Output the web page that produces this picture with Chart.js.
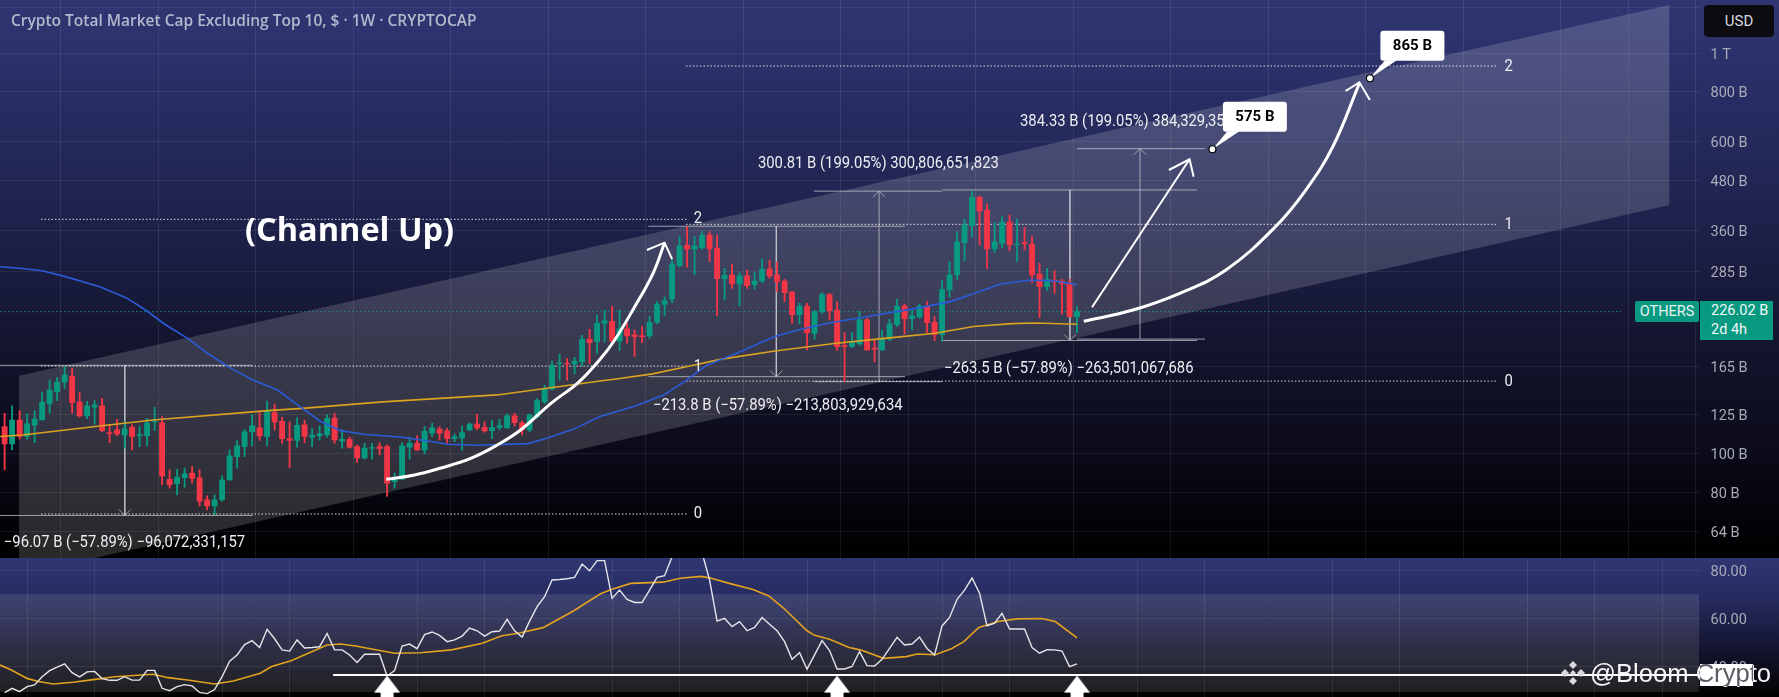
<!DOCTYPE html>
<html>
<head>
<meta charset="utf-8">
<title>OTHERS</title>
<script src="https://cdn.jsdelivr.net/npm/chart.js@4/dist/chart.umd.min.js"></script>
<style>
  html, body { margin: 0; padding: 0; background: #000; overflow: hidden; }
  #stage { position: relative; width: 1779px; height: 697px; font-family: "Liberation Sans Narrow", Roboto, sans-serif; }
  canvas { position: absolute; left: 0; display: block; }
  #mainChart {
    top: 0;
    background: linear-gradient(#2f3672 0, #2a3068 70px, #1f2450 200px, #14152f 340px, #0b0b1a 450px, #020206 530px, #000 558px);
  }
  #rsiChart {
    top: 558px;
    background: linear-gradient(#2f3672 0, #262b60 40px, #14152f 90px, #0a0a14 120px, #000 139px);
  }
  .tag { position: absolute; white-space: nowrap; }
  #title { left: 10.5px; top: 10px; color: #b4b8cc; font: 600 15.4px "Open Sans", sans-serif; transform-origin: left center; }
  #usd { left: 1704px; top: 5px; width: 70px; height: 32px; line-height: 32px; background: #0b0b10; border-radius: 4px; color: #d8d8de; font-size: 15px; text-align: center; }
  #others { left: 1635px; top: 301px; width: 64px; height: 21px; line-height: 21px; background: #089981; border-radius: 2px; color: #e8f5f2; font-size: 14.5px; text-align: center; }
  #lastPrice { left: 1700px; top: 301px; width: 73px; height: 39px; background: #089981; color: #f0f8f6; font-size: 14.5px; line-height: 19px; padding-left: 11px; box-sizing: border-box; }
  #patch { left: 1700px; top: 664px; width: 53px; height: 22px; background: #fff; overflow: hidden; }
  #mark { left: 1590px; top: 659px; color: #f4f4f6; font: 25.6px "Liberation Sans", sans-serif; }
  #markDark { left: -110px; top: -5px; color: #5a5b64; font: 25.6px "Liberation Sans", sans-serif; }
  #logo { position: absolute; left: 1560px; top: 660px; }
</style>
</head>
<body>
<div id="stage">
  <canvas id="mainChart" width="1779" height="558"></canvas>
  <canvas id="rsiChart" width="1779" height="139"></canvas>
  <div class="tag" id="title">Crypto Total Market Cap Excluding Top 10, $ · 1W · CRYPTOCAP</div>
  <div class="tag" id="usd">USD</div>
  <div class="tag" id="others">OTHERS</div>
  <div class="tag" id="lastPrice">226.02 B<br>2d 4h</div>
  <svg id="logo" width="26" height="26" viewBox="0 0 26 26" fill="#d8d8de">
    <path d="M13 1l4 4-4 4-4-4zM5 9l4 4-4 4-4-4zM21 9l4 4-4 4-4-4zM13 10l3 3-3 3-3-3zM13 17l4 4-4 4-4-4z"/>
  </svg>
  <div class="tag" id="mark">@Bloom Crypto</div>
  <div class="tag" id="patch"><div class="tag" id="markDark">@Bloom Crypto</div></div>
</div>

<script>
// weekly candles, billions of USD
const opens = [
  116.7,105.6,121.2,110.2,117.6,121.2,132.9,142.4,150.8,156.1,
  134.4,124.1,130.4,131.4,112.7,114.5,111.2,116.2,110.8,110.6,
  119.8,119.3,86.2,84,87,89.3,86.9,76.6,74,76.6,
  85.9,98.2,104,113.2,115.8,110.2,126.5,120.3,108.9,107.7,
  117.8,109.8,110.8,111.2,122.6,107.3,108.5,104,97.5,103,
  104,104,85,86.2,103.6,106,102.1,112.3,115,113.8,
  108.9,109.3,114.5,118.4,116.2,114,116.2,115.8,124.1,119.3,
  114.5,123.6,134.4,144.8,167.6,167.9,167.3,169.2,192.7,190.2,
  211.4,213.9,190.6,204.6,197.7,196.9,196.6,212.6,235.7,243.1,
  294.3,331,324,326.5,351.2,325.9,273,279,265,277.5,
  263.9,269.5,288.8,279,269.5,253,222.2,233.5,199.6,225.6,
  249.2,228.2,185.9,184.9,187.7,215.5,183.2,181.4,192.8,209.7,
  233.5,217.2,219.2,233.5,212.6,198.1,256,279,336.1,370.7,
  436.1,405.5,324,334.8,378.3,332.2,336.1,333.5,280.6,260.9,
  271.1,269.5,266.5,219.6
];
const highs = [
  126,131.4,127.9,125.5,127.9,142.4,152.5,154.9,164.7,163.1,
  141.8,135,135.5,137.3,118.4,121.7,120,117.8,116.7,122.4,
  130.4,123.6,91,91.4,91.9,92.8,91,78.4,78.8,87.9,
  102.1,107.7,114.9,124.8,126.5,135.2,132.9,123.1,120,122.9,
  121.2,115.4,117.2,124.8,126,114.5,109.8,105,106,106,
  106.4,105,89.3,106.4,109.8,110.6,116.7,118.9,116.7,115.6,
  111.9,117.2,119.3,125.3,120,121.2,121.7,125.5,126,120.7,
  125.5,137,148.2,170.1,177.1,172.8,173.7,197.2,204,221.7,
  228.2,233.5,228.2,211.4,203.4,207.4,219.6,239.4,246.4,305.4,
  347.8,368.5,347.8,358,358,351.2,289.9,297.3,282.8,287.2,
  282.8,305.4,304.2,300.7,272,254,237.1,237.1,227.3,252.1,
  251.1,239.4,200.3,200.3,226,217.6,192.8,203.4,216.3,242.6,
  236.2,228.2,236.2,239.4,219.6,270.1,301.3,358,384.4,452,
  439.5,419.8,377.1,390.3,394,384.4,367,349.1,298.4,289.9,
  286,272,272,232.6
];
const lows = [
  91,102.1,108.5,108.5,106.4,121.2,126,135.5,145.4,126,
  123.1,122.2,118.4,113.4,106.4,110.6,103,102.1,104,104.4,
  114,83.5,81.9,78.8,82.4,84.3,74,72.3,70.3,75.9,
  85.6,91.9,98.2,104.4,107.7,104.4,114.5,106,92.2,103.6,
  106.4,104,108.1,109.8,106,103,103,94.9,96.8,96.8,
  99.2,78.1,81.9,85.9,96.8,101.7,99.7,110.2,108.1,106,
  107,101.7,114,114.5,113,108.9,114.5,115.4,117.2,111.2,
  113.4,122.4,133.4,144,152.5,152.5,157.9,165.3,167.9,177.8,
  189.5,188.4,180.7,188.4,174.6,189.1,194,210.6,220.5,238,
  292,292,279,323,301.3,220.9,241.7,258.4,233.5,258.4,
  257,267,273.7,253.5,239.4,211.4,210.6,181.4,192.8,223.9,
  215.5,180.7,151.2,183.9,186,180.7,169.6,180.7,191.3,207.4,
  198.9,203.4,217.6,200.3,191.3,190.3,245.5,271.1,302.5,347.8,
  331.6,289.9,317.3,326,321,301.3,322.2,267,218.3,255,
  251.1,223,219.2,200.3
];
const closes = [
  105.6,121.2,110.2,118.5,121.9,134.4,144,150.8,157,133.9,
  124.1,131.4,132.1,114,112.1,111.9,115.2,110.2,111.5,119.3,
  120.3,87.9,83.5,87.3,89,86.6,76,74,76.6,85.9,
  98.6,104.4,113.2,117.2,110.6,127.9,119.8,108.9,107.7,117.6,
  110.2,111.2,111.9,122.4,108.1,108.5,103.6,97.5,103.2,103.4,
  102.8,84.3,86.2,104.4,106,102.1,113.6,115.8,112.3,108.9,
  110.2,112.7,118.4,115.8,113.8,116.2,117.4,124.1,119.3,114.5,
  124.8,135.5,144.8,165.9,168.4,167.3,170.1,192.7,189.1,211.3,
  214.3,190.6,204.6,196.6,195.8,195.8,212.6,236.2,240.9,297.2,
  329.7,324,329.7,351.2,324,273,279,265,277.5,262.4,
  269.5,288.8,277.5,268.5,252,222.2,233.5,200.3,226,249.2,
  226.9,184.9,184.9,189.9,215.5,181.4,182.1,193.6,210.6,233.5,
  217.2,220.5,233.5,212.2,198.1,257,279,337.4,372.1,436.1,
  403.2,324,337.4,378.3,332.2,333.5,334.2,279,260.9,272,
  268.5,265,219.6,226.02
];

// moving averages, [week, value]
const blueMa = [
  [-0.6,292.6],[2.4,289.7],[5,286],[8.1,276.4],[12.7,260.9],[16.2,244.9],[18.8,228.1],[21.3,210.5],
  [24.4,193.8],[27.4,176.1],[30,163.8],[33.1,152.5],[36.4,144],[39.7,129.6],[42.2,120],[44.8,114],
  [47.9,111.7],[53,109.8],[56,107.7],[59.1,105.4],[63.2,104.8],[69.8,105.8],[72.3,109.1],[75.9,115],
  [79.4,123.6],[83.9,130.9],[87.9,140],[91,152.6],[93.5,165.5],[97.6,177.9],[102.7,195.8],[105.8,203.4],
  [109.8,211.4],[117,223],[122.1,231.3],[126.1,239.4],[128.7,248.7],[132.8,265],[136.8,271.1],[139.9,270],[143,263.9]
];
const orangeMa = [
  [-0.6,110.2],[2.4,111.2],[12.1,116.7],[19.8,121.2],[35.1,127.9],[39.7,129.6],[50.4,134.5],[65.7,140],
  [79.4,151.6],[81.3,153.2],[86.4,158],[91.5,165.5],[95.6,172],[102.7,180.3],[110.9,188.4],[117,193.5],
  [124.1,199.6],[129.2,207.4],[134.3,211],[137.4,211.8],[143,210.2]
];

// RSI per week and its average
const rsiValues = [
  29.3,31.1,29.7,31.8,32.5,35.9,38.4,39.9,41.2,37.6,
  35.8,37.9,38.1,35.1,34.4,34.4,35.9,34.5,34.5,38.5,
  38.5,31.1,30.1,31.8,32.6,32.1,29.4,28.9,30.6,35.9,
  42.3,44.9,49.2,50.8,48,55.5,51.6,47,46.5,51.1,
  47.8,48,48.3,53.8,47,47,44.9,41.8,45.2,45.2,
  45.2,36.2,38.4,48.6,49.4,47.5,53.3,54.4,53,50.4,
  51.1,52.7,56,54.9,52.7,54.5,54.8,59.6,54.9,52.3,
  58.9,64.9,69,75.9,76.1,76.4,77,82.5,79.7,83.9,
  83.9,68.3,71.7,67.9,66.6,66.6,71.7,77,77.7,85.5,
  88.5,90,91.5,87.2,75.9,58.9,60,56.6,58.7,54.9,
  56.3,60.4,57.6,54.9,50.4,43.1,45.8,39,44.9,50.8,
  46.7,39.1,39.1,40.1,46.3,40.5,40.3,43.1,47.6,52.2,
  49,49.4,52.3,47.6,44.9,56.9,60.4,67.9,71.7,76.7,
  70.4,56.9,58,62.1,55.6,55.6,55.6,48,45.6,47.1,
  47,46.5,40.1,41.2
];
const rsiMa = [
  [-0.6,40.7],[0.9,38.7],[3,35.2],[4.5,33.9],[6.5,32.9],[9.1,33.6],[12.1,34.8],[14.7,35.9],[19.8,36.9],
  [21.8,35.5],[24.4,34.5],[28,32.9],[30.5,34.1],[34.1,37.3],[35.6,40.1],[38.2,42.5],[43,49],[44.8,49.4],
  [46.8,48.6],[52,45.6],[55.5,45.8],[59.6,47],[63.7,49.7],[66.2,52.7],[68.8,54.1],[71.8,56.2],[75.9,63.2],
  [79.4,70.1],[80.9,72],[83.5,74.5],[87.8,75],[90.1,76.6],[92.9,77.4],[94.2,76.6],[97,74.2],[99.8,72],
  [101.9,69.3],[103.9,64.2],[107,54.9],[108,53],[110,51.4],[112.6,48],[114.1,47],[117.2,43.5],[120.2,44.2],
  [121.7,45.3],[124.1,45],[126.3,47.6],[127.9,50.4],[129.9,56.3],[132.5,58.7],[135,59.8],[138.3,60],[140.1,58.7],[143,52]
];

// axes
const priceTicks = [64, 80, 100, 125, 165, 285, 360, 480, 600, 800, 1000, 1300];
const rsiTicks = [40, 60, 80];
const timeGrid = [3, 12, 29, 38, 55, 64, 81, 90, 107, 116, 125, 134, 151, 160, 177, 186, 203, 212, 221];

// drawings
const channelTop = [[1.92, 156.3], [222, 1317.9]];
const channelBottom = [[1.92, 49.7], [222, 417.3]];
const fibLeftLevels = [384.3, 165.3, 70.6];
const fibRightLevels = [928, 373.4, 151.6];
const lastClose = 226.02;

const curveOne = [[50.9,86.2],[54.5,88.2],[58.05,91.8],[62.15,97.2],[65.7,105],[68.8,114.4],[72.85,133.4],[76.45,150.1],[79.4,171.8],[81.35,192],[83.9,230.5],[86.45,281.3],[88,336]];
const curveOneHead = [[85.65,322.1],[88,336],[89,305.9]];
const straightArrow = [[145,231.7],[158,542.7]];
const straightHead = [[155.25,510.3],[158,542.7],[158.55,491]];
const curveTwo = [[143.9,213.8],[150.45,228.1],[156.7,251.1],[162.85,287.1],[169.45,368.3],[173.5,454.8],[177.1,583.4],[180.65,840]];
const curveTwoHead = [[178.8,803.7],[180.65,845],[182.05,763.2]];

// from, to, left, right, stem week
const measures = [
  [166, 70, -0.61, 33.07, 16.03],
  [369.3, 155.5, 85.85, 120.05, 102.9],
  [151.1, 451.9, 107.9, 125, 116.6],
  [455, 191.5, 125, 159, 142.05],
  [193, 577, 143, 160.05, 151.4]
];

const labelTexts = [
  ["−96.07 B (−57.89%) −96,072,331,157", -0.1, 59.6],
  ["−213.8 B (−57.89%) −213,803,929,634", 86.45, 131.4],
  ["300.81 B (199.05%) 300,806,651,823", 100.45, 528.2],
  ["−263.5 B (−57.89%) −263,501,067,686", 125.25, 162.7],
  ["384.33 B (199.05%) 384,329,35", 135.4, 672.5],
  ["2", 91.9, 385], ["1", 91.9, 164], ["0", 91.9, 70.4],
  ["2", 200, 921], ["1", 200, 372.6], ["0", 200, 150.4]
];
const callouts = [["575 B", 161.05, 575], ["865 B", 182.05, 865]];

const rsiSupport = 36.6;
const rsiBand = [70, 29.6];
const rsiArrowWeeks = [51, 111, 143];

const XMIN = -0.615;
const XMAX = 226;
const GREEN = "#089981";
const RED = "#f23645";
const AXIS_FONT = "'Liberation Sans Narrow', Roboto, sans-serif";

function pairs(list) {
  return list.map((p) => ({ x: p[0], y: p[1] }));
}

function lineSet(points, color, width, extra) {
  return Object.assign(
    {
      type: "line",
      data: pairs(points),
      borderColor: color,
      borderWidth: width,
      pointRadius: 0,
      fill: false,
      tension: 0,
      order: 1,
    },
    extra || {}
  );
}

function fitValueAxis(axis) {
  axis.width = 79.5;
  axis.paddingTop = 0;
  axis.paddingBottom = 0;
}

function fitTimeAxis(axis) {
  axis.height = 0;
  axis.paddingLeft = 0;
  axis.paddingRight = 0;
}

const timeAxis = {
  type: "linear",
  min: XMIN,
  max: XMAX,
  offset: false,
  border: { display: false },
  grid: { color: "rgba(255,255,255,0.08)", drawTicks: false },
  ticks: { display: false },
  afterBuildTicks: (axis) => (axis.ticks = timeGrid.map((v) => ({ value: v }))),
  afterFit: fitTimeAxis,
};

function priceLabel(v) {
  if (v === 1300) return "";
  return v >= 1000 ? v / 1000 + " T" : v + " B";
}

// chevrons, texts and callouts
const overlayPlugin = {
  id: "overlay",
  afterDatasetsDraw(chart) {
    const ctx = chart.ctx;
    const xs = chart.scales.x;
    const ys = chart.scales.y;

    ctx.save();
    ctx.strokeStyle = "rgba(190,190,200,0.75)";
    ctx.lineWidth = 1;
    measures.forEach((m) => {
      const x = xs.getPixelForValue(m[4]);
      const y = ys.getPixelForValue(m[1]);
      const dir = m[1] < m[0] ? -1 : 1;
      ctx.beginPath();
      ctx.moveTo(x - 6, y + dir * 6);
      ctx.lineTo(x, y);
      ctx.lineTo(x + 6, y + dir * 6);
      ctx.stroke();
    });

    ctx.textBaseline = "middle";
    ctx.fillStyle = "#eeeef2";
    ctx.font = "16px " + AXIS_FONT;
    labelTexts.forEach((t) => {
      const w = ctx.measureText(t[0]).width * 0.925;
      ctx.fillText(t[0], xs.getPixelForValue(t[1]), ys.getPixelForValue(t[2]), w);
    });

    ctx.fillStyle = "#ffffff";
    ctx.font = "bold 32.5px 'Open Sans', sans-serif";
    ctx.fillText("(Channel Up)", xs.getPixelForValue(32.05), ys.getPixelForValue(358));

    callouts.forEach((c) => {
      const x = xs.getPixelForValue(c[1]);
      const y = ys.getPixelForValue(c[2]);
      ctx.fillStyle = "#ffffff";
      ctx.beginPath();
      ctx.roundRect(x + 10.5, y - 47.5, 64, 30, 3);
      ctx.fill();
      ctx.beginPath();
      ctx.moveTo(x, y);
      ctx.lineTo(x + 15, y - 18);
      ctx.lineTo(x + 27, y - 18);
      ctx.closePath();
      ctx.fill();
      ctx.beginPath();
      ctx.arc(x, y, 3.5, 0, Math.PI * 2);
      ctx.fill();
      ctx.strokeStyle = "#000";
      ctx.lineWidth = 1.2;
      ctx.stroke();
      ctx.fillStyle = "#000";
      ctx.font = "bold 15px " + AXIS_FONT;
      ctx.textAlign = "center";
      ctx.fillText(c[0], x + 42.5, y - 32);
      ctx.textAlign = "left";
    });
    ctx.restore();
  },
};

const wickData = lows.map((l, i) => ({ x: i, y: [l, highs[i]] }));
const bodyData = opens.map((o, i) => ({ x: i, y: [o, closes[i]] }));
const candleColors = opens.map((o, i) => (closes[i] >= o ? GREEN : RED));

const levelSets = [];
fibLeftLevels.forEach((v) => {
  levelSets.push(lineSet([[4.85, v], [91.05, v]], "rgba(255,255,255,0.85)", 1, { borderDash: [1.5, 2], order: 6 }));
});
fibRightLevels.forEach((v) => {
  levelSets.push(lineSet([[90.85, v], [199.1, v]], "rgba(255,255,255,0.85)", 1, { borderDash: [1.5, 2], order: 6 }));
});

const measureSets = [];
measures.forEach((m) => {
  const gray = "rgba(200,200,210,0.75)";
  measureSets.push(lineSet([[m[2], m[0]], [m[3], m[0]]], gray, 1, { order: 6 }));
  measureSets.push(lineSet([[m[2], m[1]], [m[3], m[1]]], gray, 1, { order: 6 }));
  measureSets.push(lineSet([[m[4], m[0]], [m[4], m[1]]], gray, 1, { order: 6 }));
});

new Chart(document.getElementById("mainChart"), {
  type: "bar",
  data: {
    datasets: [
      lineSet(channelTop, "rgba(255,255,255,0)", 0, {
        fill: "+1",
        backgroundColor: "rgba(255,255,255,0.16)",
        order: 10,
      }),
      lineSet(channelBottom, "rgba(255,255,255,0)", 0, { order: 10 }),
      lineSet([[XMIN, lastClose], [215.5, lastClose]], GREEN, 1, { borderDash: [1.5, 2.5], order: 7 }),
      ...levelSets,
      ...measureSets,
      {
        data: wickData,
        backgroundColor: candleColors,
        barThickness: 1.2,
        grouped: false,
        order: 5,
      },
      {
        data: bodyData,
        backgroundColor: candleColors,
        barThickness: 5.2,
        grouped: false,
        order: 4,
      },
      lineSet(blueMa, "#2b5cd8", 1.6, { order: 3 }),
      lineSet(orangeMa, "#dba321", 1.6, { order: 3 }),
      lineSet(curveOne, "#ffffff", 3, { tension: 0.4 }),
      lineSet(curveOneHead, "#ffffff", 2),
      lineSet(straightArrow, "#ffffff", 2),
      lineSet(straightHead, "#ffffff", 2),
      lineSet(curveTwo, "#ffffff", 3, { tension: 0.4 }),
      lineSet(curveTwoHead, "#ffffff", 2),
    ],
  },
  options: {
    responsive: false,
    animation: false,
    layout: { padding: 0, autoPadding: false },
    plugins: { legend: { display: false }, tooltip: { enabled: false } },
    scales: {
      x: timeAxis,
      y: {
        type: "logarithmic",
        position: "right",
        min: 54.81,
        max: 1356.4,
        border: { display: false },
        grid: { color: "rgba(255,255,255,0.07)", drawTicks: false },
        ticks: {
          color: "#a9abb8",
          font: { family: AXIS_FONT, size: 14.5 },
          padding: 11,
          labelOffset: 2,
          autoSkip: false,
          callback: priceLabel,
        },
        afterBuildTicks: (axis) => (axis.ticks = priceTicks.map((v) => ({ value: v }))),
        afterFit: fitValueAxis,
      },
    },
  },
  plugins: [overlayPlugin],
});

// white up arrow used as point marker under the RSI support line
function upArrowMarker() {
  const c = document.createElement("canvas");
  c.width = 26;
  c.height = 24;
  const g = c.getContext("2d");
  g.fillStyle = "#fff";
  g.beginPath();
  g.moveTo(13, 0);
  g.lineTo(26, 17);
  g.lineTo(19.5, 17);
  g.lineTo(19.5, 24);
  g.lineTo(6.5, 24);
  g.lineTo(6.5, 17);
  g.lineTo(0, 17);
  g.closePath();
  g.fill();
  return c;
}

new Chart(document.getElementById("rsiChart"), {
  type: "line",
  data: {
    datasets: [
      lineSet([[XMIN, rsiBand[0]], [XMAX, rsiBand[0]]], "rgba(255,255,255,0)", 0, {
        fill: "+1",
        backgroundColor: "rgba(255,255,255,0.11)",
        order: 9,
      }),
      lineSet([[XMIN, rsiBand[1]], [XMAX, rsiBand[1]]], "rgba(255,255,255,0)", 0, { order: 9 }),
      lineSet(rsiMa, "#e3a31c", 1.6, { order: 3 }),
      {
        data: rsiValues.map((v, i) => ({ x: i, y: v })),
        borderColor: "#e6e6ea",
        borderWidth: 1.4,
        pointRadius: 0,
        tension: 0,
        order: 2,
      },
      lineSet([[43.8, rsiSupport], [XMAX, rsiSupport]], "#ffffff", 2, { order: 1 }),
      {
        data: rsiArrowWeeks.map((w) => ({ x: w, y: 31.4 })),
        showLine: false,
        pointStyle: upArrowMarker(),
        order: 0,
        clip: false,
      },
    ],
  },
  options: {
    responsive: false,
    animation: false,
    layout: { padding: 0, autoPadding: false },
    plugins: { legend: { display: false }, tooltip: { enabled: false } },
    scales: {
      x: timeAxis,
      y: {
        type: "linear",
        position: "right",
        min: 27.5,
        max: 85,
        border: { display: false },
        grid: { color: "rgba(255,255,255,0.08)", drawTicks: false },
        ticks: {
          color: "#a9abb8",
          font: { family: AXIS_FONT, size: 14.5 },
          padding: 11,
          labelOffset: 2,
          callback: (v) => v.toFixed(2),
        },
        afterBuildTicks: (axis) => (axis.ticks = rsiTicks.map((v) => ({ value: v }))),
        afterFit: fitValueAxis,
      },
    },
  },
});

// title runs from x=10.5 to x=476 in the picture
const titleEl = document.getElementById("title");
titleEl.style.transform = "scaleX(" + 465.5 / titleEl.getBoundingClientRect().width + ")";
</script>
</body>
</html>
